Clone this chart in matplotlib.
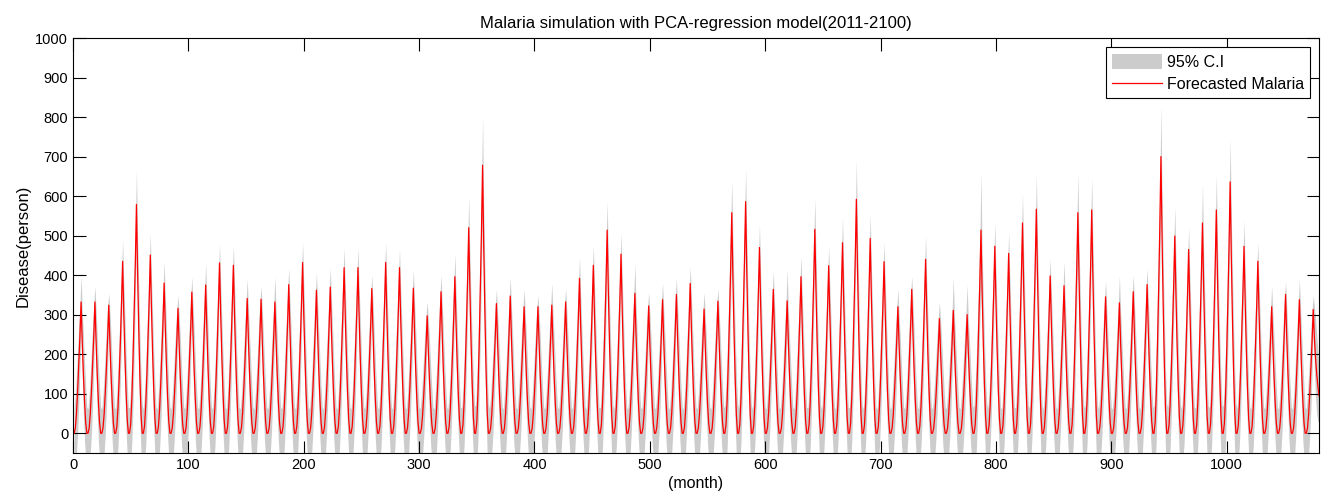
import numpy as np
import matplotlib.pyplot as plt

plt.rcParams['font.family'] = ['Liberation Sans', 'DejaVu Sans']

# forecasted malaria cases, one row per year (2011-2100), 12 months each
malaria = [
    [0, 13, 50, 106, 173, 246, 332, 232, 149, 80, 27, 0],
    [0, 13, 50, 106, 173, 246, 332, 232, 149, 80, 27, 0],
    [0, 13, 49, 104, 168, 240, 324, 227, 146, 78, 26, 0],
    [0, 17, 65, 139, 226, 322, 435, 305, 196, 104, 35, 0],
    [0, 23, 87, 185, 301, 428, 579, 405, 261, 139, 46, 0],
    [0, 18, 68, 144, 235, 334, 451, 316, 203, 108, 36, 0],
    [0, 15, 57, 122, 198, 281, 380, 266, 171, 91, 30, 0],
    [0, 13, 47, 101, 164, 234, 316, 221, 142, 76, 25, 0],
    [0, 14, 54, 114, 186, 264, 357, 250, 161, 86, 29, 0],
    [0, 15, 56, 120, 195, 278, 375, 263, 169, 90, 30, 0],
    [0, 17, 65, 138, 224, 319, 431, 302, 194, 103, 34, 0],
    [0, 17, 64, 136, 221, 315, 425, 298, 191, 102, 34, 0],
    [0, 14, 51, 109, 177, 252, 341, 239, 153, 82, 27, 0],
    [0, 14, 51, 108, 176, 251, 339, 237, 153, 81, 27, 0],
    [0, 13, 50, 106, 173, 246, 332, 232, 149, 80, 27, 0],
    [0, 15, 56, 120, 196, 278, 376, 263, 169, 90, 30, 0],
    [0, 17, 65, 138, 225, 320, 432, 302, 194, 104, 35, 0],
    [0, 14, 54, 116, 188, 268, 362, 253, 163, 87, 29, 0],
    [0, 15, 56, 118, 192, 274, 370, 259, 167, 89, 30, 0],
    [0, 17, 63, 134, 218, 310, 419, 293, 189, 101, 34, 0],
    [0, 17, 63, 134, 218, 310, 419, 293, 189, 101, 34, 0],
    [0, 15, 55, 117, 190, 271, 366, 256, 165, 88, 29, 0],
    [0, 17, 65, 138, 225, 320, 432, 302, 194, 104, 35, 0],
    [0, 17, 63, 134, 218, 310, 419, 293, 189, 101, 34, 0],
    [0, 15, 55, 117, 191, 272, 367, 257, 165, 88, 29, 0],
    [0, 12, 45, 95, 154, 220, 297, 208, 134, 71, 24, 0],
    [0, 14, 54, 115, 186, 265, 358, 251, 161, 86, 29, 0],
    [0, 16, 59, 127, 206, 293, 396, 277, 178, 95, 32, 0],
    [0, 21, 78, 166, 270, 385, 520, 364, 234, 125, 42, 0],
    [0, 27, 102, 217, 353, 502, 678, 475, 305, 163, 54, 0],
    [0, 13, 49, 105, 171, 243, 328, 230, 148, 79, 26, 0],
    [0, 14, 52, 111, 180, 257, 347, 243, 156, 83, 28, 0],
    [0, 13, 48, 102, 166, 237, 320, 224, 144, 77, 26, 0],
    [0, 13, 48, 102, 166, 237, 320, 224, 144, 77, 26, 0],
    [0, 13, 49, 104, 168, 240, 324, 227, 146, 78, 26, 0],
    [0, 13, 50, 106, 173, 246, 332, 232, 149, 80, 27, 0],
    [0, 16, 59, 125, 204, 290, 392, 274, 176, 94, 31, 0],
    [0, 17, 64, 136, 221, 315, 425, 298, 191, 102, 34, 0],
    [0, 21, 77, 164, 267, 380, 514, 360, 231, 123, 41, 0],
    [0, 18, 68, 145, 236, 335, 453, 317, 204, 109, 36, 0],
    [0, 14, 53, 113, 184, 262, 354, 248, 159, 85, 28, 0],
    [0, 13, 48, 103, 167, 238, 322, 225, 145, 77, 26, 0],
    [0, 14, 51, 108, 176, 250, 338, 237, 152, 81, 27, 0],
    [0, 14, 53, 112, 183, 260, 351, 246, 158, 84, 28, 0],
    [0, 15, 57, 121, 197, 280, 379, 265, 171, 91, 30, 0],
    [0, 13, 47, 100, 163, 232, 314, 220, 141, 75, 25, 0],
    [0, 13, 50, 107, 174, 247, 334, 234, 150, 80, 27, 0],
    [0, 22, 84, 179, 290, 413, 558, 391, 251, 134, 45, 0],
    [0, 23, 88, 188, 305, 434, 586, 410, 264, 141, 47, 0],
    [0, 19, 71, 150, 244, 348, 470, 329, 212, 113, 38, 0],
    [0, 15, 55, 116, 189, 269, 364, 255, 164, 87, 29, 0],
    [0, 13, 50, 107, 174, 248, 335, 235, 151, 80, 27, 0],
    [0, 16, 59, 127, 206, 293, 396, 277, 178, 95, 32, 0],
    [0, 21, 77, 165, 268, 382, 516, 361, 232, 124, 41, 0],
    [0, 17, 64, 136, 220, 314, 424, 297, 191, 102, 34, 0],
    [0, 19, 72, 154, 251, 357, 482, 337, 217, 116, 39, 0],
    [0, 24, 89, 189, 308, 438, 592, 414, 266, 142, 47, 0],
    [0, 20, 74, 158, 256, 365, 493, 345, 222, 118, 39, 0],
    [0, 17, 65, 139, 226, 321, 434, 304, 195, 104, 35, 0],
    [0, 13, 48, 102, 166, 237, 320, 224, 144, 77, 26, 0],
    [0, 15, 55, 116, 189, 269, 364, 255, 164, 87, 29, 0],
    [0, 18, 66, 141, 229, 326, 440, 308, 198, 106, 35, 0],
    [0, 12, 44, 93, 151, 215, 290, 203, 131, 70, 23, 0],
    [0, 12, 47, 100, 162, 230, 311, 218, 140, 75, 25, 0],
    [0, 12, 45, 96, 156, 222, 300, 210, 135, 72, 24, 0],
    [0, 21, 77, 164, 267, 380, 514, 360, 231, 123, 41, 0],
    [0, 19, 71, 151, 246, 350, 473, 331, 213, 114, 38, 0],
    [0, 18, 68, 146, 237, 337, 455, 319, 205, 109, 36, 0],
    [0, 21, 80, 170, 277, 394, 532, 372, 239, 128, 43, 0],
    [0, 23, 85, 181, 295, 420, 567, 397, 255, 136, 45, 0],
    [0, 16, 60, 127, 207, 295, 398, 279, 179, 96, 32, 0],
    [0, 15, 56, 119, 194, 276, 373, 261, 168, 90, 30, 0],
    [0, 22, 84, 179, 290, 413, 558, 391, 251, 134, 45, 0],
    [0, 23, 85, 181, 294, 418, 565, 396, 254, 136, 45, 0],
    [0, 14, 52, 110, 179, 255, 345, 242, 155, 83, 28, 0],
    [0, 13, 50, 106, 172, 244, 330, 231, 149, 79, 26, 0],
    [0, 14, 54, 115, 186, 265, 358, 251, 161, 86, 29, 0],
    [0, 15, 56, 120, 196, 278, 376, 263, 169, 90, 30, 0],
    [0, 28, 105, 224, 364, 518, 700, 490, 315, 168, 56, 0],
    [0, 20, 75, 160, 259, 369, 499, 349, 225, 120, 40, 0],
    [0, 19, 70, 149, 242, 344, 465, 326, 209, 112, 37, 0],
    [0, 21, 80, 170, 277, 394, 532, 372, 239, 128, 43, 0],
    [0, 23, 85, 181, 294, 418, 565, 396, 254, 136, 45, 0],
    [0, 25, 95, 204, 331, 471, 636, 445, 286, 153, 51, 0],
    [0, 19, 71, 151, 246, 350, 473, 331, 213, 114, 38, 0],
    [0, 17, 65, 139, 226, 322, 435, 305, 196, 104, 35, 0],
    [0, 13, 48, 102, 166, 237, 320, 224, 144, 77, 26, 0],
    [0, 14, 53, 112, 183, 260, 351, 246, 158, 84, 28, 0],
    [0, 14, 51, 108, 176, 250, 338, 237, 152, 81, 27, 0],
    [0, 13, 47, 100, 163, 232, 313, 240, 190, 150, 120, 95],
]

# half width of the 95% confidence interval, same layout
ci_half = [
    [62, 85, 100, 105, 100, 80, 68, 80, 100, 100, 90, 65],
    [62, 85, 100, 105, 100, 80, 40, 80, 100, 100, 90, 65],
    [62, 85, 100, 105, 100, 80, 30, 80, 100, 100, 90, 65],
    [62, 85, 100, 105, 100, 80, 54, 80, 100, 100, 90, 65],
    [65, 95, 110, 115, 110, 90, 87, 90, 110, 110, 100, 70],
    [62, 85, 100, 105, 100, 80, 53, 80, 100, 100, 90, 65],
    [62, 85, 100, 105, 100, 80, 55, 80, 100, 100, 90, 65],
    [62, 85, 100, 105, 100, 80, 33, 80, 100, 100, 90, 65],
    [62, 85, 100, 105, 100, 80, 38, 80, 100, 100, 90, 65],
    [62, 85, 100, 105, 100, 80, 55, 80, 100, 100, 90, 65],
    [62, 85, 100, 105, 100, 80, 47, 80, 100, 100, 90, 65],
    [62, 85, 100, 105, 100, 80, 51, 80, 100, 100, 90, 65],
    [62, 85, 100, 105, 100, 80, 50, 80, 100, 100, 90, 65],
    [62, 85, 100, 105, 100, 80, 33, 80, 100, 100, 90, 65],
    [62, 85, 100, 105, 100, 80, 63, 80, 100, 100, 90, 65],
    [62, 85, 100, 105, 100, 80, 42, 80, 100, 100, 90, 65],
    [62, 85, 100, 105, 100, 80, 50, 80, 100, 100, 90, 65],
    [62, 85, 100, 105, 100, 80, 43, 80, 100, 100, 90, 65],
    [62, 85, 100, 105, 100, 80, 48, 80, 100, 100, 90, 65],
    [62, 85, 100, 105, 100, 80, 50, 80, 100, 100, 90, 65],
    [62, 85, 100, 105, 100, 80, 50, 80, 100, 100, 90, 65],
    [62, 85, 100, 105, 100, 80, 34, 80, 100, 100, 90, 65],
    [62, 85, 100, 105, 100, 80, 50, 80, 100, 100, 90, 65],
    [62, 85, 100, 105, 100, 80, 47, 80, 100, 100, 90, 65],
    [62, 85, 100, 105, 100, 80, 46, 80, 100, 100, 90, 65],
    [62, 85, 100, 105, 100, 80, 35, 80, 100, 100, 90, 65],
    [62, 85, 100, 105, 100, 80, 42, 80, 100, 100, 90, 65],
    [62, 85, 100, 105, 100, 80, 57, 80, 100, 100, 90, 65],
    [65, 95, 110, 115, 110, 90, 80, 90, 110, 110, 100, 70],
    [70, 105, 120, 125, 120, 100, 124, 100, 120, 115, 105, 75],
    [62, 85, 100, 105, 100, 80, 36, 80, 100, 100, 90, 65],
    [62, 85, 100, 105, 100, 80, 47, 80, 100, 100, 90, 65],
    [62, 85, 100, 105, 100, 80, 46, 80, 100, 100, 90, 65],
    [62, 85, 100, 105, 100, 80, 29, 80, 100, 100, 90, 65],
    [62, 85, 100, 105, 100, 80, 55, 80, 100, 100, 90, 65],
    [62, 85, 100, 105, 100, 80, 34, 80, 100, 100, 90, 65],
    [62, 85, 100, 105, 100, 80, 53, 80, 100, 100, 90, 65],
    [62, 85, 100, 105, 100, 80, 51, 80, 100, 100, 90, 65],
    [65, 95, 110, 115, 110, 90, 72, 90, 110, 110, 100, 70],
    [62, 85, 100, 105, 100, 80, 54, 80, 100, 100, 90, 65],
    [62, 85, 100, 105, 100, 80, 74, 80, 100, 100, 90, 65],
    [62, 85, 100, 105, 100, 80, 34, 80, 100, 100, 90, 65],
    [62, 85, 100, 105, 100, 80, 41, 80, 100, 100, 90, 65],
    [62, 85, 100, 105, 100, 80, 42, 80, 100, 100, 90, 65],
    [62, 85, 100, 105, 100, 80, 42, 80, 100, 100, 90, 65],
    [62, 85, 100, 105, 100, 80, 42, 80, 100, 100, 90, 65],
    [62, 85, 100, 105, 100, 80, 32, 80, 100, 100, 90, 65],
    [70, 105, 120, 125, 120, 100, 80, 100, 120, 115, 105, 75],
    [65, 95, 110, 115, 110, 90, 84, 90, 110, 110, 100, 70],
    [62, 85, 100, 105, 100, 80, 59, 80, 100, 100, 90, 65],
    [62, 85, 100, 105, 100, 80, 46, 80, 100, 100, 90, 65],
    [62, 85, 100, 105, 100, 80, 80, 80, 100, 100, 90, 65],
    [62, 85, 100, 105, 100, 80, 52, 80, 100, 100, 90, 65],
    [65, 95, 110, 115, 110, 90, 78, 90, 110, 110, 100, 70],
    [62, 85, 100, 105, 100, 80, 48, 80, 100, 100, 90, 65],
    [62, 85, 100, 105, 100, 80, 66, 80, 100, 100, 90, 65],
    [65, 95, 110, 115, 110, 90, 99, 90, 110, 110, 100, 70],
    [62, 85, 100, 105, 100, 80, 61, 80, 100, 100, 90, 65],
    [62, 85, 100, 105, 100, 80, 49, 80, 100, 100, 90, 65],
    [62, 85, 100, 105, 100, 80, 44, 80, 100, 100, 90, 65],
    [62, 85, 100, 105, 100, 80, 33, 80, 100, 100, 90, 65],
    [62, 85, 100, 105, 100, 80, 59, 80, 100, 100, 90, 65],
    [62, 85, 100, 105, 100, 80, 42, 80, 100, 100, 90, 65],
    [62, 85, 100, 105, 100, 80, 83, 80, 100, 100, 90, 65],
    [62, 85, 100, 105, 100, 80, 75, 80, 100, 100, 90, 65],
    [70, 105, 120, 125, 120, 100, 145, 100, 120, 115, 105, 75],
    [62, 85, 100, 105, 100, 80, 59, 80, 100, 100, 90, 65],
    [62, 85, 100, 105, 100, 80, 52, 80, 100, 100, 90, 65],
    [65, 95, 110, 115, 110, 90, 75, 90, 110, 110, 100, 70],
    [65, 95, 110, 115, 110, 90, 86, 90, 110, 110, 100, 70],
    [62, 85, 100, 105, 100, 80, 44, 80, 100, 100, 90, 65],
    [62, 85, 100, 105, 100, 80, 62, 80, 100, 100, 90, 65],
    [65, 95, 110, 115, 110, 90, 101, 90, 110, 110, 100, 70],
    [65, 95, 110, 115, 110, 90, 82, 90, 110, 110, 100, 70],
    [62, 85, 100, 105, 100, 80, 40, 80, 100, 100, 90, 65],
    [62, 85, 100, 105, 100, 80, 68, 80, 100, 100, 90, 65],
    [62, 85, 100, 105, 100, 80, 42, 80, 100, 100, 90, 65],
    [62, 85, 100, 105, 100, 80, 41, 80, 100, 100, 90, 65],
    [70, 105, 120, 125, 120, 100, 130, 100, 120, 115, 105, 75],
    [65, 95, 110, 115, 110, 90, 74, 90, 110, 110, 100, 70],
    [62, 85, 100, 105, 100, 80, 55, 80, 100, 100, 90, 65],
    [65, 95, 110, 115, 110, 90, 100, 90, 110, 110, 100, 70],
    [65, 95, 110, 115, 110, 90, 88, 90, 110, 110, 100, 70],
    [70, 105, 120, 125, 120, 100, 108, 100, 120, 115, 105, 75],
    [62, 85, 100, 105, 100, 80, 66, 80, 100, 100, 90, 65],
    [62, 85, 100, 105, 100, 80, 47, 80, 100, 100, 90, 65],
    [62, 85, 100, 105, 100, 80, 52, 80, 100, 100, 90, 65],
    [62, 85, 100, 105, 100, 80, 32, 80, 100, 100, 90, 65],
    [62, 85, 100, 105, 100, 80, 51, 80, 100, 100, 90, 65],
    [62, 85, 100, 105, 100, 80, 35, 80, 100, 100, 90, 65],
]

y = np.array(malaria, dtype=float).ravel()
half = np.array(ci_half, dtype=float).ravel()
month = np.arange(1, len(y) + 1)

fig = plt.figure(figsize=(13.23, 4.97), dpi=100)
ax = fig.add_axes([73 / 1323, 44 / 497, 1246 / 1323, 415 / 497])

ax.fill_between(month, y - half, y + half, color='#cccccc', linewidth=0, label='95% C.I')
ax.plot(month, y, color='red', linewidth=0.9, label='Forecasted Malaria')

ax.set_xlim(0, 1080)
ax.set_ylim(-50, 1000)
ax.set_xticks(np.arange(0, 1001, 100))
ax.set_yticks(np.arange(0, 1001, 100))
ax.tick_params(direction='in', length=9, width=0.8, top=True, right=True,
               labelsize=10.5, colors='black')
for s in ax.spines.values():
    s.set_linewidth(0.8)

ax.set_title('Malaria simulation with PCA-regression model(2011-2100)', fontsize=12, pad=7)
ax.set_xlabel('(month)', fontsize=11.5, labelpad=3)
ax.set_ylabel('Disease(person)', fontsize=12, labelpad=3)

leg = ax.legend(loc='upper right', bbox_to_anchor=(0.9928, 0.978), borderaxespad=0,
                fancybox=False, edgecolor='black', framealpha=1, fontsize=11.5,
                handlelength=3.1, handleheight=1.1, labelspacing=0.4,
                borderpad=0.4, handletextpad=0.3)
leg.get_frame().set_linewidth(0.8)

plt.savefig('out.png', dpi=100)
